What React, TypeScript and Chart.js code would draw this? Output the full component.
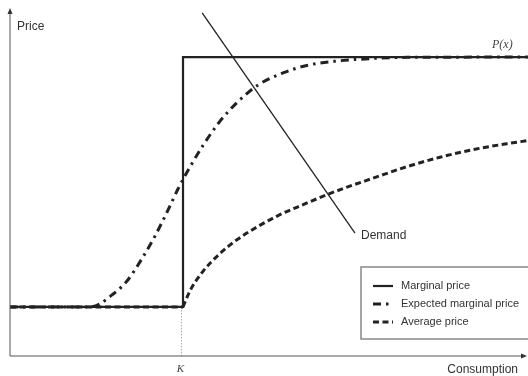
import React, { useEffect, useRef } from 'react';
import { Chart, registerables } from 'chart.js';

Chart.register(...registerables);

// Axis domain (hidden scales)
const xRange = [0, 100];
const yRange = [0, 100];

// Threshold K and the two price levels
const K = 33.1;
const lowPrice = 14.1;
const highPrice = 85.9;

// Marginal price: step at K
const marginalX = [0, 33.4, 33.4, 100];
const marginalY = [lowPrice, lowPrice, highPrice, highPrice];

// Expected marginal price: smooth S-curve
const expectedX = [0, 15.4, 17.4, 18.7, 22.5, 25.4, 28.0, 30.3, 32.5, 34.9, 37.3, 40.5, 44.1, 47.9, 52.8, 57.3, 62.7, 70.1, 75.3, 100];
const expectedY = [14.1, 14.1, 15.0, 16.4, 21.4, 27.8, 34.5, 41.3, 48.2, 54.7, 60.6, 67.4, 73.2, 77.9, 81.4, 83.5, 84.7, 85.5, 85.8, 85.9];

// Average price: flat below K, then concave rise
const averageBaseX = [0, 33.4];
const averageBaseY = [lowPrice, lowPrice];
const averageX = [33.4, 34.7, 37.3, 40.5, 43.8, 48.3, 52.1, 56.6, 61.1, 65.6, 70.1, 76.6, 83.0, 89.4, 95.9, 100];
const averageY = [14.1, 18.6, 24.4, 29.4, 33.4, 37.6, 40.6, 43.5, 46.3, 48.8, 51.1, 54.4, 57.1, 59.3, 61.0, 61.9];

// Demand line
const demandX = [37.1, 66.6];
const demandY = [98.6, 35.3];

const seriesLabels = ['Marginal price', 'Expected marginal price', 'Average price'];
const axisLabels = { x: 'Consumption', y: 'Price' };
const curveLabels = { demand: 'Demand', price: 'P(x)', k: 'K' };

const toPts = (xs: number[], ys: number[]) => xs.map((x, i) => ({ x, y: ys[i] }));

const INK = '#222';
const TEXT = '#333';
const SANS = '"Liberation Sans", Arial, sans-serif';
const SERIF = '"Liberation Serif", "Times New Roman", serif';

const styles = [
  { width: 2.2, dash: [] as number[] },
  { width: 3, dash: [8, 5, 2.5, 5] },
  { width: 3, dash: [6, 3.5] },
];

const annotPlugin = {
  id: 'annot',
  beforeDatasetsDraw(chart: any) {
    const { ctx, scales } = chart;
    const x = scales.x, y = scales.y;
    const kx = x.getPixelForValue(K);
    ctx.save();
    ctx.strokeStyle = '#aaa';
    ctx.lineWidth = 1;
    ctx.setLineDash([1.5, 1.5]);
    ctx.beginPath();
    ctx.moveTo(kx, y.getPixelForValue(lowPrice));
    ctx.lineTo(kx, y.getPixelForValue(0));
    ctx.stroke();
    ctx.restore();
  },
  afterDatasetsDraw(chart: any) {
    const { ctx, scales, chartArea } = chart;
    const x = scales.x, y = scales.y;
    const x0 = x.getPixelForValue(0);
    const y0 = y.getPixelForValue(0);
    ctx.save();
    // axes
    ctx.strokeStyle = '#555';
    ctx.fillStyle = '#333';
    ctx.lineWidth = 1;
    ctx.setLineDash([]);
    ctx.beginPath();
    ctx.moveTo(x0, y0);
    ctx.lineTo(x0, chartArea.top + 4);
    ctx.moveTo(x0, y0);
    ctx.lineTo(chartArea.right - 4, y0);
    ctx.stroke();
    // arrows
    ctx.beginPath();
    ctx.moveTo(x0, chartArea.top);
    ctx.lineTo(x0 - 2.5, chartArea.top + 6);
    ctx.lineTo(x0 + 2.5, chartArea.top + 6);
    ctx.closePath();
    ctx.fill();
    ctx.beginPath();
    ctx.moveTo(chartArea.right - 1, y0);
    ctx.lineTo(chartArea.right - 7, y0 - 2.5);
    ctx.lineTo(chartArea.right - 7, y0 + 2.5);
    ctx.closePath();
    ctx.fill();

    // texts
    ctx.fillStyle = TEXT;
    ctx.font = `12px ${SANS}`;
    ctx.textBaseline = 'alphabetic';
    ctx.textAlign = 'left';
    ctx.fillText(axisLabels.y, x0 + 7, chartArea.top + 22);
    ctx.textAlign = 'right';
    ctx.fillText(axisLabels.x, chartArea.right - 10, y0 + 17);
    ctx.textAlign = 'left';
    const dx = x.getPixelForValue(demandX[1]);
    const dy = y.getPixelForValue(demandY[1]);
    ctx.fillText(curveLabels.demand, dx + 6, dy + 6);

    ctx.font = `italic 12px ${SERIF}`;
    ctx.fillStyle = '#444';
    ctx.textAlign = 'left';
    ctx.fillText(curveLabels.price, 492, y.getPixelForValue(highPrice) - 9);
    ctx.font = `italic 11px ${SERIF}`;
    ctx.textAlign = 'center';
    ctx.fillText(curveLabels.k, x.getPixelForValue(K) - 1, y0 + 16);

    // legend
    const lx = chartArea.right - 167;
    const ly = chartArea.bottom - 89;
    ctx.fillStyle = '#fff';
    ctx.fillRect(lx, ly, 200, 72);
    ctx.strokeStyle = '#888';
    ctx.lineWidth = 1.5;
    ctx.strokeRect(lx, ly, 200, 72);
    ctx.font = `11px ${SANS}`;
    ctx.textAlign = 'left';
    ctx.textBaseline = 'middle';
    seriesLabels.forEach((lab, i) => {
      const ry = ly + 19 + i * 18;
      ctx.strokeStyle = INK;
      ctx.lineWidth = styles[i].width;
      ctx.setLineDash(styles[i].dash);
      ctx.beginPath();
      ctx.moveTo(lx + 12, ry);
      ctx.lineTo(lx + 32, ry);
      ctx.stroke();
      ctx.setLineDash([]);
      ctx.fillStyle = TEXT;
      ctx.fillText(lab, lx + 40, ry);
    });
    ctx.restore();
  },
};

export default function App() {
  const ref = useRef<HTMLCanvasElement>(null);
  useEffect(() => {
    const common = { pointRadius: 0, fill: false, borderColor: INK, borderCapStyle: 'butt' as const };
    const chart = new Chart(ref.current!, {
      type: 'line',
      data: {
        datasets: [
          { ...common, label: 'Demand', data: toPts(demandX, demandY), borderWidth: 1.3, tension: 0 },
          { ...common, label: seriesLabels[0], data: toPts(marginalX, marginalY), borderWidth: styles[0].width, borderDash: styles[0].dash, tension: 0, borderJoinStyle: 'miter' as const },
          { ...common, label: seriesLabels[1], data: toPts(expectedX, expectedY), borderWidth: styles[1].width, borderDash: styles[1].dash, cubicInterpolationMode: 'monotone' as const },
          { ...common, label: seriesLabels[2], data: toPts(averageX, averageY), borderWidth: styles[2].width, borderDash: styles[2].dash, cubicInterpolationMode: 'monotone' as const },
          { ...common, label: seriesLabels[2] + ' base', data: toPts(averageBaseX, averageBaseY), borderWidth: styles[2].width, borderDash: styles[2].dash, tension: 0 },
        ],
      },
      options: {
        responsive: true,
        maintainAspectRatio: false,
        animation: false,
        layout: { padding: { left: 10, right: 0, top: 8, bottom: 20 } },
        scales: {
          x: { type: 'linear', display: false, min: xRange[0], max: xRange[1] },
          y: { type: 'linear', display: false, min: yRange[0], max: yRange[1] },
        },
        plugins: { legend: { display: false }, tooltip: { enabled: false } },
      },
      plugins: [annotPlugin],
    });
    return () => chart.destroy();
  }, []);
  return (
    <div style={{ position: 'fixed', left: 0, top: 0, width: 528, height: 376 }}>
      <canvas ref={ref} />
    </div>
  );
}
